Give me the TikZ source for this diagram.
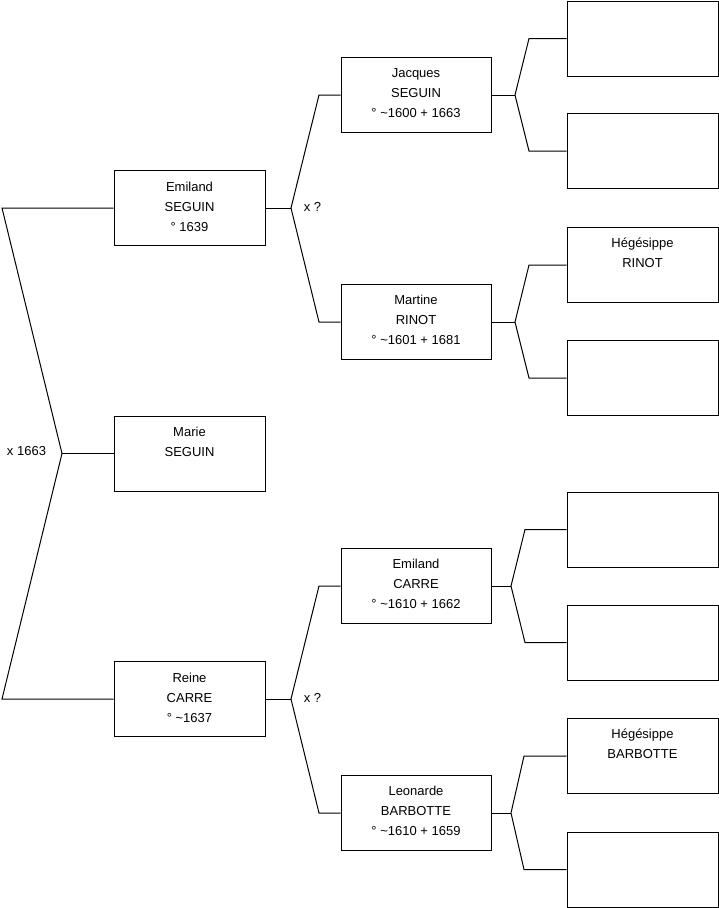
\documentclass[tikz,border=0pt]{standalone}
\usepackage{fontspec}
\setmainfont{Liberation Sans}
\usetikzlibrary{calc}
\begin{document}
\begin{tikzpicture}[x=1pt,y=-1pt,
  box/.style={draw, line width=1pt, minimum height=75pt, inner sep=0pt},
  gone/.style={box, minimum width=151pt},
  gtwo/.style={box, minimum width=150pt},
  txt/.style={anchor=north, inner sep=0pt, align=center, font=\fontsize{13}{20}\selectfont},
  lbl/.style={inner sep=0pt, font=\fontsize{13}{20}\selectfont},
  link/.style={line width=1pt}]
\useasboundingbox (0,0) rectangle (719,908);
% generation 1
\node[gone] (es) at (189.5,208) {};
\node[gone] (ms) at (189.5,453.5) {};
\node[gone] (rc) at (189.5,699) {};
% generation 2
\node[gtwo] (js) at (416,95) {};
\node[gtwo] (mr) at (416,322) {};
\node[gtwo] (ec) at (416,586) {};
\node[gtwo] (lb) at (416,813) {};
% generation 3
\node[gone] (g1) at (642.5,38.5) {};
\node[gone] (g2) at (642.5,151) {};
\node[gone] (g3) at (642.5,265) {};
\node[gone] (g4) at (642.5,378) {};
\node[gone] (g5) at (642.5,529.5) {};
\node[gone] (g6) at (642.5,642.5) {};
\node[gone] (g7) at (642.5,756) {};
\node[gone] (g8) at (642.5,869.5) {};
% texts
\node[txt] (tes) at ($(es.north)+(0,7)$) {\strut Emiland\\SEGUIN\\° 1639};
\node[txt] (tms) at ($(ms.north)+(0,7)$) {\strut Marie\\SEGUIN};
\node[txt] (trc) at ($(rc.north)+(0,7)$) {\strut Reine\\CARRE\\° \textasciitilde1637};
\node[txt] (tjs) at ($(js.north)+(0,6.5)$) {\strut Jacques\\SEGUIN\\° \textasciitilde1600 + 1663};
\node[txt] (tmr) at ($(mr.north)+(0,6.5)$) {\strut Martine\\RINOT\\° \textasciitilde1601 + 1681};
\node[txt] (tec) at ($(ec.north)+(0,6.5)$) {\strut Emiland\\CARRE\\° \textasciitilde1610 + 1662};
\node[txt] (tlb) at ($(lb.north)+(0,6.5)$) {\strut Leonarde\\BARBOTTE\\° \textasciitilde1610 + 1659};
\node[txt] (tg3) at ($(g3.north)+(0,6.5)$) {\strut Hégésippe\\RINOT};
\node[txt] (tg7) at ($(g7.north)+(0,6.5)$) {\strut Hégésippe\\BARBOTTE};
% junction coordinates
\coordinate (L1) at (2,208);
\coordinate (J0) at (62,453.5);
\coordinate (L2) at (2,699);
\coordinate (J1) at (291,208);
\coordinate (J1a) at (319,95);
\coordinate (J1b) at (319,322);
\coordinate (J2) at (291,699);
\coordinate (J2a) at (319,586);
\coordinate (J2b) at (319,813);
\coordinate (K1) at (515,95);
\coordinate (K1a) at (529,38.5);
\coordinate (K1b) at (529,151);
\coordinate (K2) at (515,322);
\coordinate (K2a) at (529,265);
\coordinate (K2b) at (529,378);
\coordinate (K3) at (511,586);
\coordinate (K3a) at (525,529.5);
\coordinate (K3b) at (525,642.5);
\coordinate (K4) at (511,813);
\coordinate (K4a) at (524,756);
\coordinate (K4b) at (524,869.5);
% connectors
\draw[link] (es.west) -- (L1) -- (J0) -- (L2) -- (rc.west);
\draw[link] (J0) -- (ms.west);
\draw[link] (es.east) -- (J1);
\draw[link] (js.west) -- (J1a) -- (J1) -- (J1b) -- (mr.west);
\draw[link] (rc.east) -- (J2);
\draw[link] (ec.west) -- (J2a) -- (J2) -- (J2b) -- (lb.west);
\draw[link] (js.east) -- (K1);
\draw[link] (g1.west) -- (K1a) -- (K1) -- (K1b) -- (g2.west);
\draw[link] (mr.east) -- (K2);
\draw[link] (g3.west) -- (K2a) -- (K2) -- (K2b) -- (g4.west);
\draw[link] (ec.east) -- (K3);
\draw[link] (g5.west) -- (K3a) -- (K3) -- (K3b) -- (g6.west);
\draw[link] (lb.east) -- (K4);
\draw[link] (g7.west) -- (K4a) -- (K4) -- (K4b) -- (g8.west);
% labels
\node[lbl] (x0) at (26.5,451) {x 1663};
\node[lbl] (x1) at (312.5,207) {x ?};
\node[lbl] (x2) at (312.5,698) {x ?};
\end{tikzpicture}
\end{document}
